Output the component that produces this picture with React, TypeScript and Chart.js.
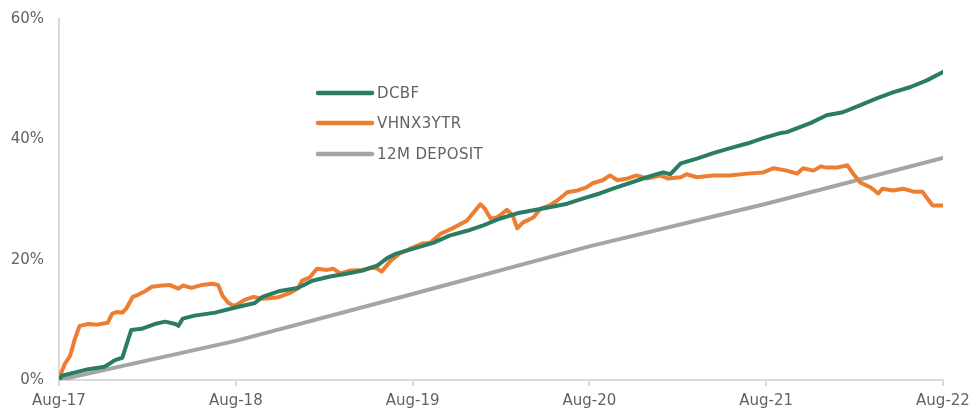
import React, { useEffect, useRef } from "react";
import { Chart, registerables } from "chart.js";

Chart.register(...registerables);

// x positions are months since Aug-17
const xTickLabels = ["Aug-17", "Aug-18", "Aug-19", "Aug-20", "Aug-21", "Aug-22"];
const yTickLabels = ["0%", "20%", "40%", "60%"];

const dcbfMonths = [0, 0.2, 2.0, 3.1, 3.8, 4.3, 4.6, 4.9, 5.6, 6.5, 7.2, 7.9, 8.1, 8.4, 9.2, 10.6, 11.9, 13.3, 13.8, 15.0, 16.2, 17.2, 18.4, 19.6, 20.6, 21.6, 22.3, 22.9, 24.0, 25.4, 26.5, 27.7, 28.8, 29.9, 31.1, 32.2, 33.3, 34.5, 35.6, 36.7, 37.6, 39.9, 41.0, 41.5, 42.2, 43.3, 44.4, 45.5, 46.7, 47.8, 48.9, 49.4, 51.0, 52.1, 53.2, 54.4, 55.5, 56.6, 57.8, 58.9, 60];
const dcbfValues = [0, 0.7, 1.8, 2.2, 3.3, 3.7, 6.0, 8.3, 8.5, 9.3, 9.7, 9.3, 9.0, 10.2, 10.7, 11.2, 12.0, 12.8, 13.8, 14.8, 15.3, 16.5, 17.2, 17.7, 18.2, 19.0, 20.3, 21.0, 21.8, 22.8, 24.0, 24.8, 25.7, 26.8, 27.7, 28.2, 28.7, 29.3, 30.2, 31.0, 31.8, 33.7, 34.5, 34.2, 36.0, 36.8, 37.7, 38.5, 39.3, 40.2, 41.0, 41.2, 42.7, 44.0, 44.5, 45.7, 46.8, 47.8, 48.7, 49.8, 51.2];

const vhnxMonths = [0, 0.07, 0.4, 0.75, 1.1, 1.4, 2.0, 2.6, 3.3, 3.6, 3.9, 4.3, 4.6, 5.0, 5.4, 5.8, 6.3, 7.0, 7.5, 8.1, 8.4, 9.0, 9.7, 10.4, 10.8, 11.1, 11.5, 11.9, 12.6, 13.2, 13.8, 14.8, 15.7, 16.2, 16.5, 17.0, 17.5, 18.2, 18.6, 19.1, 19.8, 20.6, 21.3, 21.6, 21.9, 22.5, 23.1, 24.0, 24.7, 25.2, 25.9, 26.7, 27.7, 28.1, 28.6, 28.9, 29.3, 29.7, 29.9, 30.4, 30.8, 31.1, 31.5, 32.2, 32.7, 33.3, 33.8, 34.5, 35.2, 35.8, 36.2, 36.9, 37.4, 37.9, 38.6, 39.2, 39.9, 40.8, 41.3, 42.2, 42.6, 43.3, 44.4, 45.5, 46.7, 47.8, 48.5, 49.4, 50.1, 50.5, 51.2, 51.7, 52.1, 52.8, 53.5, 53.9, 54.4, 55.1, 55.6, 55.9, 56.6, 57.3, 58.0, 58.6, 58.9, 59.3, 60];
const vhnxValues = [0, 0.7, 2.7, 4.0, 7.0, 9.0, 9.3, 9.2, 9.5, 11.0, 11.3, 11.2, 12.0, 13.8, 14.2, 14.7, 15.5, 15.7, 15.8, 15.2, 15.7, 15.3, 15.8, 16.0, 15.8, 14.0, 12.8, 12.3, 13.3, 13.8, 13.5, 13.7, 14.5, 15.2, 16.5, 17.0, 18.5, 18.3, 18.5, 17.7, 18.2, 18.3, 18.7, 18.5, 18.0, 19.8, 21.0, 22.0, 22.7, 22.8, 24.3, 25.2, 26.5, 27.7, 29.2, 28.5, 26.8, 27.0, 27.3, 28.3, 27.3, 25.2, 26.2, 27.0, 28.5, 29.0, 29.8, 31.2, 31.5, 32.0, 32.7, 33.2, 34.0, 33.2, 33.5, 34.0, 33.5, 34.0, 33.5, 33.7, 34.2, 33.7, 34.0, 34.0, 34.3, 34.5, 35.2, 34.8, 34.3, 35.2, 34.8, 35.5, 35.3, 35.3, 35.7, 34.3, 32.8, 32.0, 31.0, 31.8, 31.5, 31.8, 31.3, 31.3, 30.3, 29.0, 29.0];

const depositMonths = [0, 12, 24, 36, 48, 60];
const depositValues = [0, 6.5, 14.3, 22.2, 29.3, 36.9];

const seriesNames = ["DCBF", "VHNX3YTR", "12M DEPOSIT"];
const seriesColors = ["#2A7D62", "#ED7D31", "#A5A5A5"];

const toPoints = (xs: number[], ys: number[]) => xs.map((x, i) => ({ x, y: ys[i] }));

const legendPlugin = {
  id: "insideLegend",
  afterDraw(chart: any) {
    const ctx = chart.ctx;
    const startX = 318;
    const lineEnd = 372;
    const rows = [93, 123, 154];
    ctx.save();
    chart.data.datasets.forEach((ds: any, i: number) => {
      const y = rows[i];
      ctx.strokeStyle = ds.borderColor;
      ctx.lineWidth = 4.5;
      ctx.lineCap = "round";
      ctx.beginPath();
      ctx.moveTo(startX, y);
      ctx.lineTo(lineEnd, y);
      ctx.stroke();
      ctx.fillStyle = "#626262";
      ctx.font = "15px 'DejaVu Sans'";
      try { (ctx as any).letterSpacing = "0.4px"; } catch (e) {}
      ctx.textBaseline = "middle";
      ctx.textAlign = "left";
      ctx.fillText(ds.label, lineEnd + 5, y + 1);
      try { (ctx as any).letterSpacing = "0px"; } catch (e) {}
    });
    ctx.restore();
  },
};

export default function App() {
  const ref = useRef<HTMLCanvasElement | null>(null);
  useEffect(() => {
    if (!ref.current) return;
    const chart = new Chart(ref.current, {
      type: "line",
      data: {
        datasets: [
          { label: seriesNames[0], data: toPoints(dcbfMonths, dcbfValues), borderColor: seriesColors[0], backgroundColor: seriesColors[0], borderWidth: 4, pointRadius: 0, tension: 0, borderJoinStyle: "round", borderCapStyle: "round" },
          { label: seriesNames[1], data: toPoints(vhnxMonths, vhnxValues), borderColor: seriesColors[1], backgroundColor: seriesColors[1], borderWidth: 4, pointRadius: 0, tension: 0, borderJoinStyle: "round", borderCapStyle: "round" },
          { label: seriesNames[2], data: toPoints(depositMonths, depositValues), borderColor: seriesColors[2], backgroundColor: seriesColors[2], borderWidth: 4, pointRadius: 0, tension: 0, borderJoinStyle: "round", borderCapStyle: "round" },
        ],
      },
      options: {
        animation: false,
        responsive: false,
        maintainAspectRatio: false,
        layout: { padding: { left: 0, right: 34, top: 19, bottom: 0 } },
        plugins: { legend: { display: false }, tooltip: { enabled: false } },
        scales: {
          x: {
            type: "linear",
            min: 0,
            max: 60,
            afterBuildTicks: (axis: any) => {
              axis.ticks = [0, 12, 24, 36, 48, 60].map((v) => ({ value: v }));
            },
            afterFit: (axis: any) => {
              axis.height = 29;
              axis.paddingLeft = 0;
              axis.paddingRight = 0;
            },
            ticks: {
              autoSkip: false,
              maxRotation: 0,
              color: "#626262",
              font: { family: "'DejaVu Sans'", size: 15 },
              padding: 6,
              callback: (v: any) => xTickLabels[Math.round(Number(v) / 12)] ?? "",
            },
            grid: { drawOnChartArea: false, drawTicks: true, tickLength: 6, color: "#D9D9D9", lineWidth: 2 },
            border: { display: true, color: "#D9D9D9", width: 2 },
          },
          y: {
            min: 0,
            max: 60,
            afterFit: (axis: any) => {
              axis.width = 59;
              axis.paddingTop = 0;
              axis.paddingBottom = 0;
            },
            ticks: {
              stepSize: 20,
              color: "#626262",
              font: { family: "'DejaVu Sans'", size: 15 },
              padding: 7,
              callback: (v: any) => yTickLabels[Math.round(Number(v) / 20)] ?? "",
            },
            grid: { display: false },
            border: { display: true, color: "#D9D9D9", width: 2 },
          },
        },
      },
      plugins: [legendPlugin],
    });
    return () => chart.destroy();
  }, []);
  return (
    <div style={{ position: "absolute", left: 0, top: 0, width: 977, height: 409, background: "#fff" }}>
      <canvas ref={ref} width={977} height={409} style={{ display: "block", width: 977, height: 409 }} />
    </div>
  );
}
